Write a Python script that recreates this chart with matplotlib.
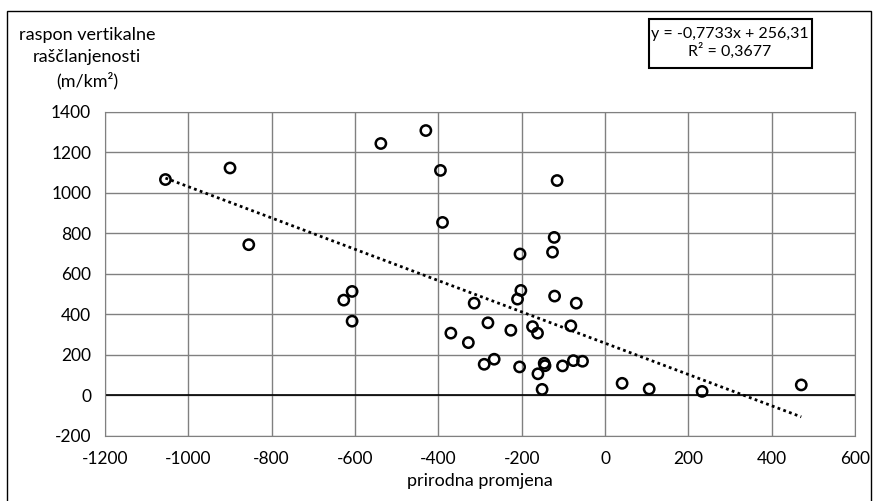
import numpy as np
import matplotlib
matplotlib.use('Agg')
import matplotlib.pyplot as plt
from matplotlib.patches import Rectangle
from matplotlib import rc

rc('font', **{'family': ['Lato', 'DejaVu Sans'], 'size': 12.5})
rc('axes', unicode_minus=False)

# prirodna promjena (x) vs raspon vertikalne raščlanjenosti (y)
prirodna = [-1055, -900, -855, -538, -430, -395, -390, -627, -607, -607,
            -204, -126, -115, -122, -202, -210, -314, -121, -69, -281,
            -370, -328, -226, -174, -162, -82, -290, -266, -205, -146,
            -144, -161, -151, -102, -76, -54, 41, 106, 233, 471]
raspon = [1065, 1122, 743, 1243, 1307, 1110, 853, 469, 512, 365,
          697, 706, 1060, 779, 517, 474, 454, 489, 454, 357,
          306, 259, 320, 338, 306, 342, 152, 177, 139, 157,
          145, 105, 28, 144, 170, 167, 58, 30, 18, 50]

# Excel linear trendline
slope = -0.7733
intercept = 256.31
r2 = 0.3677

xticks = np.arange(-1200, 601, 200)
yticks = np.arange(-200, 1401, 200)

fig = plt.figure(figsize=(8.73, 5.01), dpi=100)
ax = fig.add_axes([0.1203, 0.1307, 0.8591, 0.6463])

ax.scatter(prirodna, raspon, s=55, facecolors='none', edgecolors='black', linewidths=1.8, zorder=3)

xs = np.array([min(prirodna), max(prirodna)])
ax.plot(xs, slope * xs + intercept, linestyle=(0, (1, 1.2)), color='black', lw=2, zorder=2)

ax.set_xlim(-1200, 600)
ax.set_ylim(-200, 1400)
ax.set_xticks(xticks)
ax.set_yticks(yticks)
ax.tick_params(axis='y', length=0, pad=10)
ax.tick_params(axis='x', length=0, pad=11)
ax.grid(True, color='#808080', lw=1)
ax.axhline(0, color='black', lw=1.2, zorder=1)
ax.set_axisbelow(True)
for s in ax.spines.values():
    s.set_color('#808080')

fig.text(87 / 873, 1 - 58 / 501, 'raspon vertikalne\nraščlanjenosti\n(m/km²)',
         ha='center', va='center', fontsize=13, linespacing=1.45)
fig.text(480 / 873, 1 - 481 / 501, 'prirodna promjena', ha='center', va='center', fontsize=13)

eq = 'y = -0,7733x + 256,31\nR² = 0,3677'
fig.text(730 / 873, 1 - 43 / 501, eq, ha='center', va='center', fontsize=11.5, linespacing=1.2)
fig.patches.append(Rectangle((649 / 873, 1 - 68 / 501), 163 / 873, 49 / 501,
                             transform=fig.transFigure, fill=False, edgecolor='black', lw=1.5))

# outer chart frame
fig.patches.append(Rectangle((7 / 873, -0.05), 864 / 873, 1.05 - 11 / 501,
                             transform=fig.transFigure, fill=False, edgecolor='black', lw=1))

plt.savefig('out.png', dpi=100)
